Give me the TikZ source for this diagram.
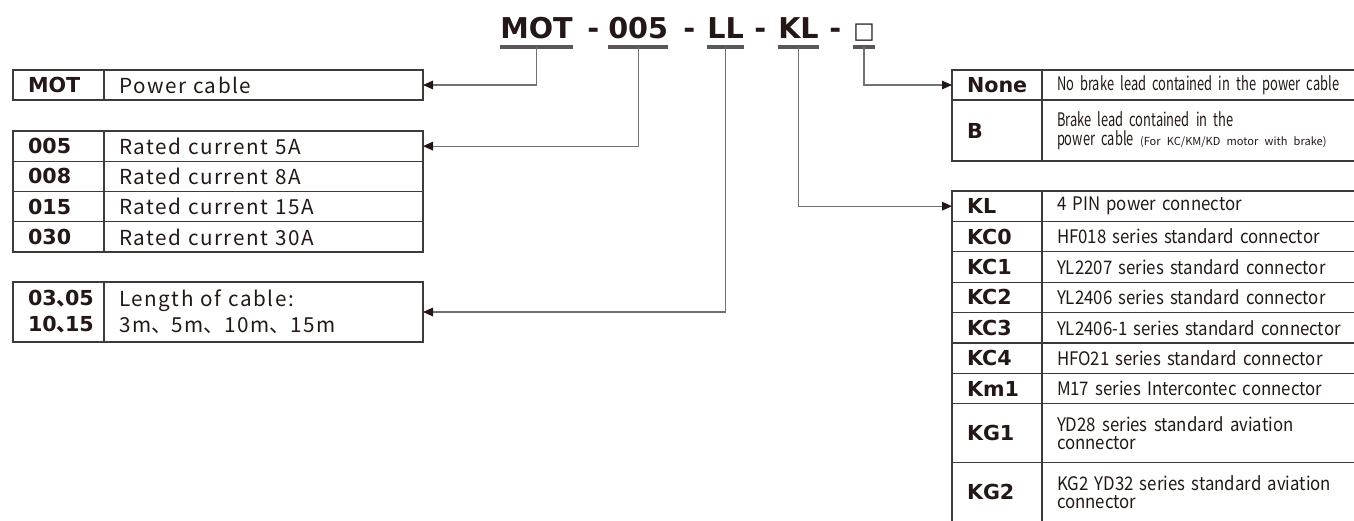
\documentclass[tikz,border=0pt]{standalone}
\usepackage{fontspec}
\usetikzlibrary{arrows.meta, positioning}
\newfontfamily\codefont{DejaVu Sans}
\newfontfamily\cjkfont{Noto Sans CJK SC}
\newfontfamily\descfont[LetterSpace=7.5]{Noto Sans CJK SC}
\newfontfamily\narrowfont[FakeStretch=0.69]{Noto Sans CJK SC}
\newfontfamily\slimfont[FakeStretch=0.9]{Noto Sans CJK SC}
\definecolor{ink}{HTML}{231815}
\definecolor{rule}{HTML}{3E3A39}
\definecolor{wire}{HTML}{727171}
\definecolor{bar}{HTML}{595757}
\newcommand{\dun}{{\cjkfont 、}}

\begin{document}
\begin{tikzpicture}[
  x=0.75pt, y=-0.75pt,
  every node/.style={text=ink},
  title/.style={inner sep=0pt, anchor=base west, font=\codefont\bfseries\fontsize{21.5pt}{24pt}\selectfont},
  cell/.style={draw=rule, line width=0.9pt, outer sep=0pt, inner xsep=11.25pt, inner ysep=0pt, align=left},
  lcode/.style={cell, text width=45.75pt, minimum height=22.7pt, font=\codefont\bfseries\fontsize{15.5pt}{19.5pt}\selectfont},
  ldesc/.style={cell, text width=216.75pt, minimum height=22.7pt, font=\descfont\fontsize{15.5pt}{19.5pt}\selectfont},
  rcode/.style={cell, text width=45pt, minimum height=22.8pt, font=\codefont\bfseries\fontsize{15.5pt}{18pt}\selectfont},
  rdesc/.style={cell, text width=250pt, minimum height=22.8pt, font=\slimfont\fontsize{14pt}{14pt}\selectfont},
  bdesc/.style={rdesc, font=\narrowfont\fontsize{14pt}{14.5pt}\selectfont},
  uline/.style={draw=bar, line width=2.6pt},
  link/.style={draw=wire, line width=0.8pt, -{Triangle[length=7.5pt, width=6.5pt, color=ink]}},
]
\useasboundingbox (0,0) rectangle (1354,521);

% part number
\node[title] (tMOT) at (500,38) {MOT};
\node[title] (s1)   at (587,38) {-};
\node[title] (t005) at (608,38) {005};
\node[title] (s2)   at (683,38) {-};
\node[title] (tLL)  at (707,38) {LL};
\node[title] (s3)   at (754,38) {-};
\node[title] (tKL)  at (778,38) {KL};
\node[title] (s4)   at (829,38) {-};
\node[title, font=\codefont\fontsize{17pt}{20pt}\selectfont] (tBox) at (853,38) {□};
\foreach \t in {tMOT, t005, tLL, tKL, tBox} {
  \draw[uline] ([yshift=-6.75pt]\t.base west) -- ([yshift=-6.75pt]\t.base east);
  \coordinate (u\t) at ([yshift=-6.75pt]\t.base);
}

% left tables
\node[lcode, minimum height=22.5pt, anchor=north west] (cMOT) at (13,70) {MOT};
\node[ldesc, minimum height=22.5pt, right=0pt of cMOT] (dMOT) {Power cable};

\node[lcode, anchor=north west] (c005) at (13,131) {005};
\node[ldesc, right=0pt of c005] (d005) {Rated current 5A};
\node[lcode, below=0pt of c005] (c008) {008};
\node[ldesc, right=0pt of c008] (d008) {Rated current 8A};
\node[lcode, below=0pt of c008] (c015) {015};
\node[ldesc, right=0pt of c015] (d015) {Rated current 15A};
\node[lcode, below=0pt of c015] (c030) {030};
\node[ldesc, right=0pt of c030] (d030) {Rated current 30A};

\node[lcode, minimum height=45pt, anchor=north west] (cLen) at (13,282) {03\dun\kern-0.6em 05\\10\dun\kern-0.6em 15};
\node[ldesc, minimum height=45pt, right=0pt of cLen] (dLen) {Length of cable:\\3m\dun 5m\dun 10m\dun 15m};

% right tables
\node[rcode, minimum height=22.5pt, anchor=north west] (cNone) at (952,70) {None};
\node[bdesc, minimum height=22.5pt, right=0pt of cNone] (dNone) {No brake lead contained in the power cable};
\node[rcode, minimum height=45.75pt, below=0pt of cNone] (cB) {B};
\node[bdesc, minimum height=45.75pt, right=0pt of cB] (dB) {Brake lead contained in the\\power cable{\cjkfont\fontsize{8.3pt}{9pt}\selectfont\ (For KC/KM/KD motor with brake)}};

\node[rcode, anchor=north west] (cKL) at (952,191) {KL};
\node[rdesc, right=0pt of cKL] (dKL) {4 PIN power connector};
\node[rcode, below=0pt of cKL] (cKC0) {KC0};
\node[rdesc, right=0pt of cKC0] (dKC0) {HF018 series standard connector};
\node[rcode, below=0pt of cKC0] (cKC1) {KC1};
\node[rdesc, right=0pt of cKC1] (dKC1) {YL2207 series standard connector};
\node[rcode, below=0pt of cKC1] (cKC2) {KC2};
\node[rdesc, right=0pt of cKC2] (dKC2) {YL2406 series standard connector};
\node[rcode, below=0pt of cKC2] (cKC3) {KC3};
\node[rdesc, right=0pt of cKC3] (dKC3) {YL2406-1 series standard connector};
\node[rcode, below=0pt of cKC3] (cKC4) {KC4};
\node[rdesc, right=0pt of cKC4] (dKC4) {HFO21 series standard connector};
\node[rcode, below=0pt of cKC4] (cKm1) {Km1};
\node[rdesc, right=0pt of cKm1] (dKm1) {M17 series Intercontec connector};
\node[rcode, minimum height=44.25pt, below=0pt of cKm1] (cKG1) {KG1};
\node[rdesc, minimum height=44.25pt, right=0pt of cKG1] (dKG1) {YD28 series standard aviation\\connector};
\node[rcode, minimum height=44.25pt, below=0pt of cKG1] (cKG2) {KG2};
\node[rdesc, minimum height=44.25pt, right=0pt of cKG2] (dKG2) {KG2 YD32 series standard aviation\\connector};

% connectors
\draw[link] (utMOT) |- (dMOT.east);
\draw[link] (ut005) |- (d005.east);
\draw[link] (utLL) |- (dLen.east);
\draw[link] (utKL) |- (cKL.west);
\draw[link] (utBox) |- (cNone.west);
\end{tikzpicture}
\end{document}
